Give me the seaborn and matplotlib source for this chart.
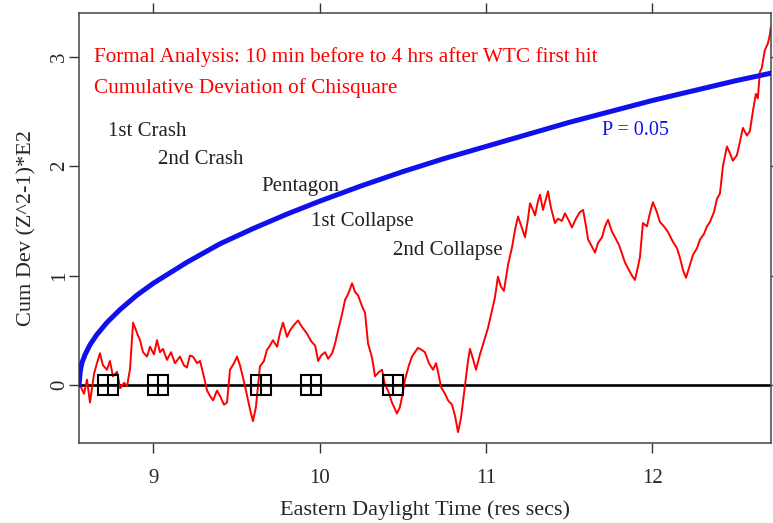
import numpy as np
import pandas as pd
import matplotlib
matplotlib.use("Agg")
import matplotlib.pyplot as plt
import seaborn as sns

# ============================================================================
# DATA
# ============================================================================

# cumulative deviation of chisquare (red trace), hours EDT
cum_time = [
    8.559, 8.583, 8.601, 8.619, 8.643, 8.661, 8.679, 8.697, 8.721, 8.739,
    8.757, 8.782, 8.800, 8.824, 8.842, 8.860, 8.878, 8.896, 8.908, 8.920,
    8.938, 8.962, 8.980, 9.004, 9.022, 9.040, 9.058, 9.082, 9.106, 9.130,
    9.160, 9.184, 9.202, 9.220, 9.238, 9.263, 9.281, 9.305, 9.323, 9.341,
    9.359, 9.383, 9.401, 9.425, 9.443, 9.461, 9.485, 9.503, 9.521, 9.539,
    9.557, 9.581, 9.599, 9.617, 9.641, 9.665, 9.683, 9.701, 9.719, 9.744,
    9.762, 9.780, 9.804, 9.822, 9.846, 9.870, 9.894, 9.924, 9.949, 9.973,
    9.991, 10.009, 10.033, 10.051, 10.075, 10.093, 10.111, 10.135, 10.153, 10.171,
    10.195, 10.213, 10.231, 10.255, 10.273, 10.291, 10.315, 10.333, 10.357, 10.375,
    10.393, 10.411, 10.435, 10.465, 10.483, 10.495, 10.513, 10.537, 10.555, 10.573,
    10.591, 10.615, 10.633, 10.657, 10.682, 10.700, 10.712, 10.730, 10.754, 10.772,
    10.796, 10.814, 10.832, 10.850, 10.874, 10.892, 10.904, 10.922, 10.940, 10.964,
    10.988, 11.012, 11.036, 11.054, 11.072, 11.090, 11.108, 11.133, 11.157, 11.175,
    11.193, 11.217, 11.235, 11.253, 11.265, 11.283, 11.295, 11.313, 11.325, 11.343,
    11.361, 11.373, 11.391, 11.415, 11.433, 11.457, 11.475, 11.499, 11.517, 11.541,
    11.565, 11.584, 11.602, 11.614, 11.632, 11.656, 11.674, 11.698, 11.716, 11.734,
    11.758, 11.776, 11.800, 11.818, 11.836, 11.860, 11.878, 11.896, 11.914, 11.926,
    11.944, 11.968, 11.986, 12.004, 12.028, 12.046, 12.070, 12.094, 12.124, 12.149,
    12.167, 12.185, 12.203, 12.227, 12.245, 12.269, 12.287, 12.311, 12.329, 12.347,
    12.371, 12.389, 12.407, 12.425, 12.449, 12.467, 12.485, 12.509, 12.527, 12.545,
    12.569, 12.587, 12.605, 12.623, 12.635, 12.647, 12.659, 12.677, 12.695, 12.707,
    12.713,
]
cum_dev = [
    0.00, -0.08, 0.05, -0.16, 0.10, 0.20, 0.29, 0.18, 0.14, 0.22,
    0.08, 0.12, -0.03, 0.02, -0.01, 0.15, 0.57, 0.50, 0.45, 0.41,
    0.30, 0.26, 0.35, 0.28, 0.41, 0.30, 0.33, 0.23, 0.30, 0.20,
    0.26, 0.18, 0.16, 0.27, 0.26, 0.20, 0.22, 0.07, -0.05, -0.10,
    -0.14, -0.05, -0.10, -0.18, -0.16, 0.14, 0.20, 0.26, 0.18, 0.07,
    -0.05, -0.22, -0.33, -0.20, 0.17, 0.22, 0.32, 0.36, 0.41, 0.35,
    0.48, 0.57, 0.44, 0.50, 0.55, 0.59, 0.53, 0.47, 0.40, 0.36,
    0.22, 0.27, 0.30, 0.24, 0.29, 0.38, 0.50, 0.65, 0.78, 0.83,
    0.93, 0.85, 0.82, 0.72, 0.66, 0.38, 0.25, 0.08, 0.12, 0.14,
    0.00, -0.05, -0.16, -0.26, -0.20, -0.11, 0.05, 0.18, 0.26, 0.30,
    0.34, 0.32, 0.30, 0.20, 0.14, 0.20, 0.12, -0.02, -0.08, -0.14,
    -0.18, -0.28, -0.43, -0.30, 0.00, 0.22, 0.33, 0.24, 0.14, 0.28,
    0.40, 0.52, 0.68, 0.80, 0.99, 0.90, 0.86, 1.10, 1.26, 1.42,
    1.54, 1.43, 1.35, 1.52, 1.66, 1.60, 1.55, 1.68, 1.74, 1.60,
    1.70, 1.77, 1.62, 1.48, 1.52, 1.50, 1.57, 1.50, 1.44, 1.52,
    1.58, 1.60, 1.45, 1.33, 1.28, 1.21, 1.30, 1.35, 1.45, 1.51,
    1.40, 1.35, 1.28, 1.20, 1.12, 1.05, 1.00, 0.96, 1.08, 1.17,
    1.48, 1.45, 1.57, 1.67, 1.58, 1.49, 1.45, 1.40, 1.31, 1.25,
    1.16, 1.05, 0.98, 1.10, 1.19, 1.25, 1.33, 1.38, 1.45, 1.49,
    1.58, 1.70, 1.75, 2.00, 2.18, 2.12, 2.05, 2.10, 2.22, 2.35,
    2.28, 2.32, 2.50, 2.66, 2.62, 2.86, 2.90, 3.06, 3.12, 3.20,
    3.27,
]

# P = 0.05 envelope (blue)
env_time = [8.553, 8.560, 8.570, 8.590, 8.620, 8.660, 8.720, 8.800, 8.900, 9.000,
            9.200, 9.400, 9.600, 9.800, 10.000, 10.250, 10.500, 10.750, 11.000,
            11.250, 11.500, 11.750, 12.000, 12.250, 12.500, 12.714]
env_val = [0.00, 0.12, 0.20, 0.28, 0.37, 0.46, 0.57, 0.69, 0.82, 0.93,
           1.12, 1.29, 1.43, 1.56, 1.68, 1.82, 1.95, 2.07, 2.18,
           2.29, 2.40, 2.50, 2.60, 2.69, 2.78, 2.85]

# events
event_names = ["1st Crash", "2nd Crash", "Pentagon", "1st Collapse", "2nd Collapse"]
event_time = [8.727, 9.029, 9.649, 9.946, 10.444]
event_label_y = [2.32, 2.06, 1.81, 1.49, 1.23]

x_ticks = [9, 10, 11, 12]
y_ticks = [0, 1, 2, 3]

# ============================================================================
# PLOT
# ============================================================================

sns.set_theme(style="ticks")
plt.rcParams["font.family"] = ["Liberation Serif", "DejaVu Serif"]

df_cum = pd.DataFrame({"time": cum_time, "dev": cum_dev})
df_env = pd.DataFrame({"time": env_time, "val": env_val})
df_evt = pd.DataFrame({"time": event_time, "zero": [0] * len(event_time)})

fig = plt.figure(figsize=(7.73, 5.23), dpi=100)
ax = fig.add_axes([0.1022, 0.1535, 0.8952, 0.8211])

ax.axhline(0, color="black", lw=1.9, zorder=1)
sns.lineplot(data=df_cum, x="time", y="dev", color="red", lw=1.4,
             estimator=None, sort=False, ax=ax, zorder=2)
sns.lineplot(data=df_env, x="time", y="val", color="#1010ee", lw=3.6,
             estimator=None, sort=False, ax=ax, zorder=3)

# square-plus markers at events
ax.plot(df_evt["time"], df_evt["zero"], ls="none", marker="s", ms=14.5,
        mfc="none", mec="black", mew=1.5, zorder=4)
ax.plot(df_evt["time"], df_evt["zero"], ls="none", marker="+", ms=14.5,
        mec="black", mew=1.5, zorder=4)

for name, t, ly in zip(event_names, event_time, event_label_y):
    ax.text(t, ly, name, ha="left", va="center", fontsize=15, color="#222222")

ax.text(8.645, 3.00, "Formal Analysis: 10 min before to 4 hrs after WTC first hit",
        color="red", fontsize=15.3, ha="left", va="center")
ax.text(8.645, 2.71, "Cumulative Deviation of Chisquare",
        color="red", fontsize=15.3, ha="left", va="center")
ax.text(11.70, 2.33, "P = 0.05", color="#1010ee", fontsize=14.5, ha="left", va="center")

ax.set_xlim(8.553, 12.714)
ax.set_ylim(-0.527, 3.397)
ax.set_xticks(x_ticks)
ax.set_yticks(y_ticks)
ax.tick_params(axis="both", direction="out", length=7, width=1, color="#333333",
               top=True, right=True, labelsize=15)
ax.tick_params(axis="x", pad=12)
ax.tick_params(axis="y", pad=0)
for lab in ax.get_yticklabels():
    lab.set_rotation(90)
    lab.set_va("center")

for s in ax.spines.values():
    s.set_visible(True)
    s.set_color("#444444")
    s.set_linewidth(1.1)

ax.set_xlabel("Eastern Daylight Time (res secs)", fontsize=16, labelpad=9)
ax.set_ylabel("Cum Dev (Z^2-1)*E2", fontsize=16, labelpad=10)

fig.savefig("out.png", dpi=100, facecolor="white")
